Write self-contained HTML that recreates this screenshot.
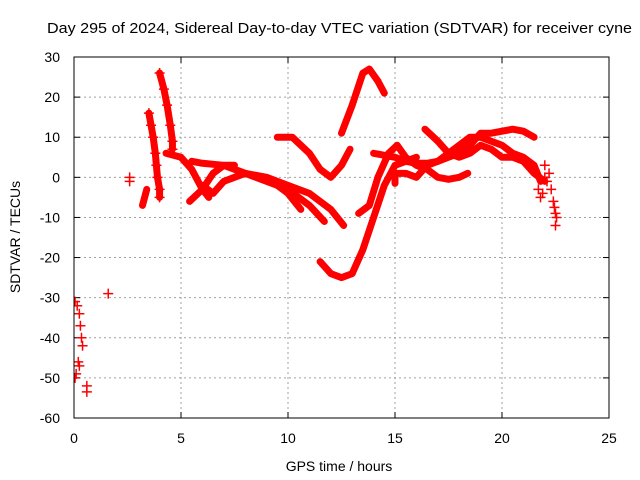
<!DOCTYPE html>
<html><head><meta charset="utf-8"><style>
body{margin:0;background:#fff;}
svg{display:block;font-family:"Liberation Sans",sans-serif;}
</style></head><body>
<svg id="c" width="640" height="480">
<text x="47" y="33" font-size="15" textLength="585" lengthAdjust="spacingAndGlyphs" fill="#000">Day 295 of 2024, Sidereal Day-to-day VTEC variation (SDTVAR) for receiver cyne</text>
<text x="339" y="471" font-size="14" text-anchor="middle">GPS time / hours</text>
<text x="20" y="237" font-size="14" text-anchor="middle" transform="rotate(-90 20 237)">SDTVAR / TECUs</text>
<g id="grid"></g><g id="ticks"></g>
<defs><clipPath id="pc"><rect x="74" y="57" width="535" height="361"/></clipPath></defs>
<g id="series" clip-path="url(#pc)"></g>
<rect x="74" y="57" width="535" height="361" fill="none" stroke="#000" stroke-width="1"/>
</svg>
<script>
const xTicks=[0,5,10,15,20,25];
const yTicks=[30,20,10,0,-10,-20,-30,-40,-50,-60];
const track1=[[0.05,-31],[0.15,-32],[0.25,-34],[0.3,-37],[0.35,-40],[0.4,-42]];
const track2=[[0.05,-50],[0.1,-49],[0.2,-46],[0.25,-47]];
const track3=[[0.6,-52],[0.6,-53.5],[1.6,-29],[2.6,0],[2.6,-1]];
const track4=[[3.2,-7],[3.3,-5],[3.4,-3]];
const track5=[[3.5,16],[3.6,13],[3.7,10],[3.8,6],[3.85,3],[3.9,0],[4.0,-3],[4.0,-5]];
const track6=[[4.0,26],[4.2,22],[4.35,18],[4.5,13],[4.6,9],[4.6,7]];
const track7=[[4.3,6],[5.0,5],[5.5,2],[6.0,-3],[6.3,-5]];
const track8=[[5.4,-6],[6.0,-3],[6.5,1],[7.0,3],[7.5,3]];
const track9=[[5.5,4],[6.0,3.5],[7.0,3],[8.0,1],[9.0,0],[10.0,-2],[11.0,-4],[12.0,-8],[12.6,-12]];
const track10=[[6.0,-2],[6.5,-4],[7.0,-1],[7.5,0],[8.0,1],[9.0,-1],[10.0,-3],[11.0,-7],[11.7,-11]];
const track11=[[9.5,-2],[10.0,-4],[10.6,-8]];
const track12=[[9.5,10],[10.2,10],[11.0,6],[11.5,2],[12.0,0],[12.5,3],[12.9,7]];
const track13=[[12.5,11],[13.0,18],[13.5,26],[13.8,27],[14.2,24],[14.5,21]];
const track14=[[11.5,-21],[12.0,-24],[12.5,-25],[13.0,-24],[13.5,-18],[14.0,-10],[14.5,-2],[15.0,3],[15.5,4],[16.0,5]];
const track15=[[13.3,-9],[13.8,-7],[14.2,0],[14.7,6],[15.1,8],[15.5,5],[16.0,3],[16.5,2],[17.0,0],[17.5,-0.5],[18.0,0],[18.4,1]];
const track16=[[14.0,6],[15.0,5],[15.5,4],[16.0,3.5],[16.5,3.5],[17.0,4],[17.5,5],[18.0,6],[18.5,8],[19.0,11],[19.5,11],[20.0,11.5],[20.5,12],[21.0,11.5],[21.5,10]];
const track17=[[16.4,12],[17.0,9],[17.5,6],[18.0,5],[18.5,6],[19.0,8],[19.5,7],[20.0,5],[20.5,5],[21.0,4],[21.5,1],[22.0,-1]];
const track18=[[15.0,-1.5],[15.0,1],[15.5,1],[16.0,0],[16.5,3],[17.0,4],[17.5,6],[18.0,8],[18.5,10],[19.0,10],[19.5,9],[20.0,8],[20.5,6],[21.0,5],[21.5,3],[21.8,-1]];
const track19=[[21.7,-3],[21.8,-5],[22.0,3],[22.2,1],[22.3,-3],[22.4,-6],[22.5,-9],[22.5,-12],[22.55,-10],[22.45,-7.5],[21.9,-4],[22.0,0],[22.1,-1]];
const lineTracks=[track4,track5,track6,track7,track8,track9,track10,track11,track12,track13,track14,track15,track16,track17,track18];
const markerTracks=[track1,track2,track3,track5,track6,track19];
const X=v=>74+(v/25)*535, Y=v=>57+(30-v)/90*361;
const NS="http://www.w3.org/2000/svg";
const grid=document.getElementById('grid'),ticks=document.getElementById('ticks'),ser=document.getElementById('series');
function mk(tag,attrs,parent){const e=document.createElementNS(NS,tag);for(const k in attrs)e.setAttribute(k,attrs[k]);parent.appendChild(e);return e;}
xTicks.forEach(t=>{
 if(t>0&&t<25){const g=mk('line',{x1:X(t),x2:X(t),y1:57,y2:418,stroke:'#a0a0a0','stroke-dasharray':'2,3'},grid);
 
 }
 mk('line',{x1:X(t),x2:X(t),y1:418,y2:412,stroke:'#000'},ticks);
 mk('line',{x1:X(t),x2:X(t),y1:57,y2:63,stroke:'#000'},ticks);
 const l=mk('text',{x:X(t),y:443,'font-size':14,'text-anchor':'middle'},ticks);l.textContent=t;
 
 
});
yTicks.forEach(t=>{
 if(t<30&&t>-60){const g=mk('line',{x1:74,x2:609,y1:Y(t),y2:Y(t),stroke:'#a0a0a0','stroke-dasharray':'2,3'},grid);
 
 }
 mk('line',{x1:74,x2:80,y1:Y(t),y2:Y(t),stroke:'#000'},ticks);
 mk('line',{x1:603,x2:609,y1:Y(t),y2:Y(t),stroke:'#000'},ticks);
 const l=mk('text',{x:60,y:Y(t)+5,'font-size':14,'text-anchor':'end'},ticks);l.textContent=t;
 
 
});
lineTracks.forEach(tr=>{
 const p=mk('polyline',{points:tr.map(d=>X(d[0])+','+Y(d[1])).join(' '),fill:'none',stroke:'#ff0000','stroke-width':7,'stroke-linejoin':'round','stroke-linecap':'round'},ser);
 
 
});
markerTracks.forEach(tr=>tr.forEach(d=>{
 const x=X(d[0]),y=Y(d[1]);
 const m=mk('path',{d:`M${x-5},${y}H${x+5}M${x},${y-5}V${y+5}`,stroke:'#ff0000','stroke-width':1.5},ser);
 
 
}));
</script>
</body></html>
